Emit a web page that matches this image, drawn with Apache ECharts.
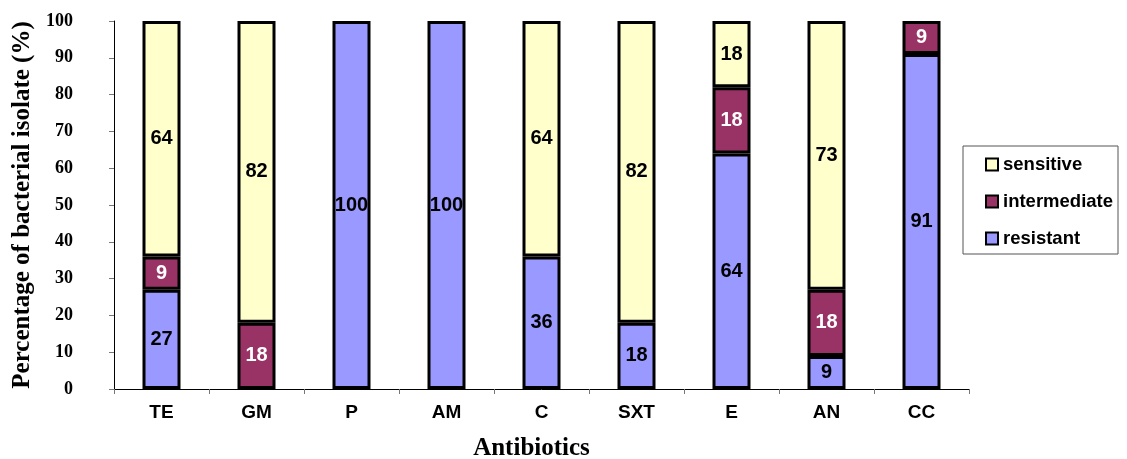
<!DOCTYPE html>
<html>
<head>
<meta charset="utf-8">
<script src="https://cdn.jsdelivr.net/npm/echarts@6/dist/echarts.min.js"></script>
<style>html,body{margin:0;padding:0;background:#fff}#c{width:1127px;height:459px}</style>
</head>
<body>
<div id="c"></div>
<script>
const categories = ['TE','GM','P','AM','C','SXT','E','AN','CC'];
const resistant = [27, null, 100, 100, 36, 18, 64, 9, 91];
const intermediate = [9, 18, null, null, null, null, 18, 18, 9];
const sensitive = [64, 82, null, null, 64, 82, 18, 73, null];
const yTicks = {min: 0, max: 100, interval: 10};

const chart = echarts.init(document.getElementById('c'), null, {renderer: 'canvas'});
function ser(name, data, color, labelColor) {
  return {
    name: name, type: 'bar', stack: 'all', data: data, barWidth: 38,
    itemStyle: {color: color, borderColor: '#000', borderWidth: 3},
    label: {show: true, position: 'inside', color: labelColor,
      fontFamily: 'Liberation Sans, Arial', fontWeight: 'bold', fontSize: 20,
      formatter: p => p.value == null ? '' : String(p.value)}
  };
}
chart.setOption({
  animation: false,
  grid: {left: 114, right: 158, top: 21, bottom: 70, containLabel: false, outerBoundsMode: 'none'},
  legend: {
    orient: 'vertical', left: 963, top: 146,
    data: ['sensitive', 'intermediate', 'resistant'],
    padding: [9, 5, 6, 22], itemGap: 18, itemWidth: 12, itemHeight: 12,
    borderColor: '#555', borderWidth: 1,
    icon: 'rect',
    itemStyle: {borderColor: '#000', borderWidth: 2},
    textStyle: {fontFamily: 'Liberation Sans, Arial', fontWeight: 'bold', fontSize: 18.5, color: '#000'}
  },
  xAxis: {
    type: 'category', data: categories,
    name: 'Antibiotics', nameLocation: 'middle', nameGap: 47,
    nameTextStyle: {fontFamily: 'Liberation Serif, Times New Roman', fontWeight: 'bold', fontSize: 25, color: '#000', padding: [0, 20, 0, 0]},
    axisLine: {lineStyle: {color: '#000', width: 1}},
    axisTick: {show: true, length: 5, lineStyle: {color: '#777'}},
    axisLabel: {color: '#000', fontFamily: 'Liberation Sans, Arial', fontWeight: 'bold', fontSize: 19, margin: 14}
  },
  yAxis: {
    type: 'value', min: yTicks.min, max: yTicks.max, interval: yTicks.interval,
    name: 'Percentage of bacterial isolate (%)', nameLocation: 'middle', nameGap: 79,
    nameTextStyle: {fontFamily: 'Liberation Serif, Times New Roman', fontWeight: 'bold', fontSize: 25, color: '#000'},
    splitLine: {show: false},
    axisLine: {show: true, lineStyle: {color: '#000', width: 1}},
    axisTick: {show: true, length: 5, lineStyle: {color: '#777'}},
    axisLabel: {color: '#000', fontFamily: 'Liberation Serif, Times New Roman', fontWeight: 'bold', fontSize: 18, margin: 41}
  },
  series: [
    ser('resistant', resistant, '#9999FF', '#000'),
    ser('intermediate', intermediate, '#993366', '#fff'),
    ser('sensitive', sensitive, '#FFFFCC', '#000')
  ]
});
</script>
</body>
</html>
